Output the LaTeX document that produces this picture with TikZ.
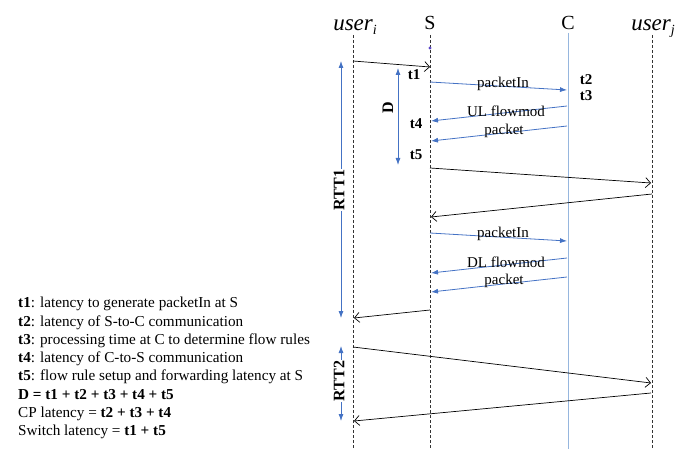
\documentclass[tikz,border=0pt]{standalone}
\usepackage{fontspec}
\setmainfont{Liberation Serif}
\usetikzlibrary{arrows.meta}
\definecolor{arrblue}{RGB}{68,114,196}
\definecolor{cline}{RGB}{150,182,222}
\definecolor{dotpurple}{RGB}{90,70,200}
\begin{document}
\begin{tikzpicture}[x=1pt,y=-1pt,
  lifeline/.style={draw=black!80,line width=0.8pt,dash pattern=on 3pt off 2pt},
  ctlline/.style={draw=cline,line width=0.8pt},
  head/.style={font=\fontsize{20}{22}\selectfont,anchor=base,inner sep=0pt},
  uhead/.style={font=\fontsize{23}{25}\selectfont\itshape,anchor=base,inner sep=0pt},
  msg/.style={draw=black,line width=0.7pt,-{Straight Barb[length=5pt,width=10pt]}},
  bmsg/.style={draw=arrblue,line width=0.8pt,-{Latex[length=7pt,width=5pt]}},
  vspan/.style={draw=arrblue,line width=0.8pt,{Latex[length=7pt,width=5pt]}-{Latex[length=7pt,width=5pt]}},
  mlabel/.style={font=\fontsize{15}{17}\selectfont,inner sep=0pt},
  tlabel/.style={font=\fontsize{15}{17}\selectfont\bfseries,inner sep=0pt},
  spanlabel/.style={font=\fontsize{16}{18}\selectfont\bfseries,rotate=90,fill=white,inner sep=1pt},
  legend/.style={font=\fontsize{15.2}{17}\selectfont,anchor=base west,inner sep=0pt}]
\useasboundingbox (0,0) rectangle (683,449);

% headers
\node[uhead] (hui) at (355,31) {user\raisebox{-4pt}{\fontsize{14}{16}\selectfont i}};
\node[head] (hs) at (430,30) {S};
\node[head] (hc) at (568,30) {C};
\node[uhead] (huj) at (653,31) {user\raisebox{-4pt}{\fontsize{14}{16}\selectfont j}};

% lifelines
\coordinate (uiT) at (353,35); \coordinate (uiB) at (353,449);
\coordinate (sT) at (430,35);  \coordinate (sB) at (430,449);
\coordinate (cT) at (568,33);  \coordinate (cB) at (568,449);
\coordinate (ujT) at (652,35); \coordinate (ujB) at (652,449);
\draw[lifeline] (uiT) -- (uiB);
\draw[lifeline] (sT) -- (sB);
\draw[ctlline] (cT) -- (cB);
\draw[lifeline] (ujT) -- (ujB);
\fill[dotpurple] (430,48) circle (1.6);

% message points
\coordinate (ui1) at (353,61);  \coordinate (s1) at (430,67);
\coordinate (s2) at (430,82);   \coordinate (c2) at (567,90);
\coordinate (c3) at (567,106);  \coordinate (s3) at (431,121);
\coordinate (c4) at (567,126);  \coordinate (s4) at (431,141);
\coordinate (s5) at (430,168);  \coordinate (uj5) at (651,183);
\coordinate (uj6) at (652,194); \coordinate (s6) at (431,217);
\coordinate (s7) at (430,233);  \coordinate (c7) at (567,241);
\coordinate (c8) at (567,258);  \coordinate (s8) at (431,273);
\coordinate (c9) at (567,277);  \coordinate (s9) at (431,292);
\coordinate (s10) at (430,310); \coordinate (ui10) at (354,318);
\coordinate (ui11) at (353,347);\coordinate (uj11) at (651,383);
\coordinate (uj12) at (651,393);\coordinate (ui12) at (354,421);

\draw[msg] (ui1) -- (s1);
\draw[bmsg] (s2) -- (c2);
\draw[bmsg] (c3) -- (s3);
\draw[bmsg] (c4) -- (s4);
\draw[msg] (s5) -- (uj5);
\draw[msg] (uj6) -- (s6);
\draw[bmsg] (s7) -- (c7);
\draw[bmsg] (c8) -- (s8);
\draw[bmsg] (c9) -- (s9);
\draw[msg] (s10) -- (ui10);
\draw[msg] (ui11) -- (uj11);
\draw[msg] (uj12) -- (ui12);

% message labels
\node[mlabel] (l1) at (503,84) {packetIn};
\node[mlabel] (l2) at (506,111) {UL flowmod};
\node[mlabel] (l3) at (504,131) {packet};
\node[mlabel] (l4) at (503,234) {packetIn};
\node[mlabel] (l5) at (506,262) {DL flowmod};
\node[mlabel] (l6) at (504,281) {packet};

% time labels
\node[tlabel] (t1) at (414,75) {t1};
\node[tlabel] (t2) at (586,80) {t2};
\node[tlabel] (t3) at (586,96) {t3};
\node[tlabel] (t4) at (416,124) {t4};
\node[tlabel] (t5) at (416,155) {t5};

% spans
\coordinate (dT) at (398,68); \coordinate (dB) at (398,165);
\draw[vspan] (dT) -- (dB);
\node[spanlabel] (dl) at (388,108) {D};
\coordinate (r1T) at (341,61); \coordinate (r1B) at (341,318);
\draw[vspan] (r1T) -- (r1B);
\node[spanlabel] (r1l) at (339,190) {RTT1};
\coordinate (r2T) at (341,346); \coordinate (r2B) at (341,421);
\draw[vspan] (r2T) -- (r2B);
\node[spanlabel] (r2l) at (339,381) {RTT2};

% legend
\node[legend] (g1) at (18,308) {\textbf{t1}: latency to generate packetIn at S};
\node[legend] (g2) at (18,326.2) {\textbf{t2}: latency of S-to-C communication};
\node[legend] (g3) at (18,344.4) {\textbf{t3}: processing time at C to determine flow rules};
\node[legend] (g4) at (18,362.6) {\textbf{t4}: latency of C-to-S communication};
\node[legend] (g5) at (18,380.8) {\textbf{t5}: flow rule setup and forwarding latency at S};
\node[legend] (g6) at (18,399) {\textbf{D = t1 + t2 + t3 + t4 + t5}};
\node[legend] (g7) at (18,417.2) {CP latency = \textbf{t2 + t3 + t4}};
\node[legend] (g8) at (18,435.4) {Switch latency = \textbf{t1 + t5}};
\end{tikzpicture}
\end{document}
